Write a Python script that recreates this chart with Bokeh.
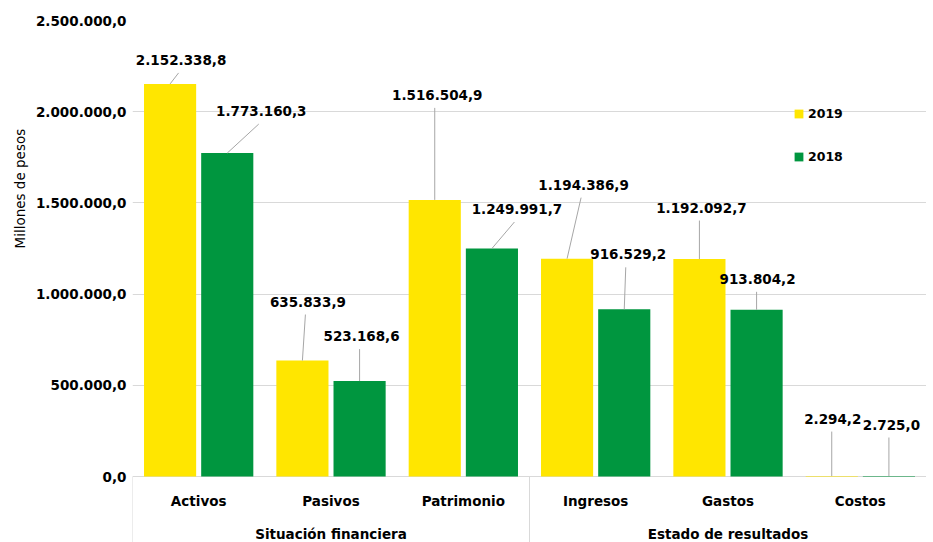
from bokeh.plotting import figure
from bokeh.models import (Range1d, FixedTicker, CustomJSTickFormatter, ColumnDataSource,
                          Legend, LegendItem, Title)
from bokeh.core.properties import value
from bokeh.embed import file_html
from bokeh.resources import INLINE

# ---------------- data ----------------
groups = ["Situación financiera", "Estado de resultados"]
categories = ["Activos", "Pasivos", "Patrimonio", "Ingresos", "Gastos", "Costos"]
category_group = [0, 0, 0, 1, 1, 1]
series_names = ["2019", "2018"]
values_2019 = [2152338.8, 635833.9, 1516504.9, 1194386.9, 1192092.7, 2294.2]
values_2018 = [1773160.3, 523168.6, 1249991.7, 916529.2, 913804.2, 2725.0]
y_ticks = [0, 500000, 1000000, 1500000, 2000000, 2500000]
y_title = "Millones de pesos"

# ---------------- styles ----------------
YELLOW = "#FFE600"
GREEN = "#00963F"
GRID = "#D9D9D9"
LEADER = "#A6A6A6"
FONT = "DejaVu Sans"
FRAME_W = 794          # px for the 6 categories
PLOT_H = 456           # px for 0 .. y_max
BELOW_PX = 66          # px below zero (category labels area)
Y_MAX = 2500000
DODGE = 0.216
BAR_W = 0.394
# label offsets from bar top centre, in px (dx right, dy down)
label_off_2019 = [(11, -24), (5.5, -59), (2.5, -105), (16.5, -74), (2, -51.5), (1, -57.5)]
label_off_2018 = [(34, -42), (2, -45), (25, -39.5), (4, -55), (1, -31), (2.5, -51.5)]

n = len(categories)
sx = FRAME_W / n
sy = PLOT_H / Y_MAX
y_min = -BELOW_PX / sy


def fmt(v):
    s = f"{v:,.1f}"
    return s.replace(",", "X").replace(".", ",").replace("X", ".")


p = figure(x_range=Range1d(0, n), y_range=Range1d(y_min, Y_MAX),
           frame_width=FRAME_W, frame_height=PLOT_H + BELOW_PX,
           min_border_left=132, min_border_top=20, min_border_bottom=0, min_border_right=0,
           x_axis_location=None, output_backend="svg", toolbar_location=None)
p.outline_line_color = None
p.xgrid.visible = False
p.ygrid.ticker = FixedTicker(ticks=y_ticks)
p.ygrid.grid_line_color = GRID
p.ygrid.grid_line_width = 1

ax = p.yaxis[0]
ax.ticker = FixedTicker(ticks=y_ticks)
ax.formatter = CustomJSTickFormatter(code=r"""
var s = Math.abs(tick).toFixed(1).split('.');
var ip = s[0].replace(/\B(?=(\d{3})+(?!\d))/g, '.');
return (tick < 0 ? '-' : '') + ip + ',' + s[1];
""")
ax.axis_line_color = None
ax.major_tick_line_color = None
ax.minor_tick_line_color = None
ax.major_tick_out = 0
ax.major_label_standoff = 6
ax.major_label_text_font = FONT
ax.major_label_text_font_style = "bold"
ax.major_label_text_font_size = "13.5px"
ax.major_label_text_color = "black"

# y-axis title (placed beside the axis, centred on the value area)
ytitle = Title(text=y_title, align="left", offset=294, standoff=9,
               text_font=FONT, text_font_style="normal", text_font_size="13.5px",
               text_color="black")
p.add_layout(ytitle, "left")

# separators (group boundaries) below the axis
bounds = [0] + [i for i in range(1, n) if category_group[i] != category_group[i - 1]] + [n]
p.segment(x0=bounds, y0=[0] * len(bounds), x1=bounds, y1=[y_min] * len(bounds),
          line_color=GRID, line_width=1)

renderers = []
for vals, offs, col, dsh in ((values_2019, label_off_2019, YELLOW, -DODGE),
                             (values_2018, label_off_2018, GREEN, DODGE)):
    xs = [i + 0.5 + dsh for i in range(n)]
    src = ColumnDataSource(dict(x=xs, top=vals))
    r = p.vbar(x="x", top="top", width=BAR_W, source=src, fill_color=col, line_color=None)
    renderers.append(r)
    lx = [x + dx / sx for x, (dx, dy) in zip(xs, offs)]
    ly = [v - dy / sy for v, (dx, dy) in zip(vals, offs)]
    ex = [x + max(0.0, dx - 2.5) / sx for x, (dx, dy) in zip(xs, offs)]
    ey = [y - 13 / sy for y in ly]
    p.segment(x0=xs, y0=vals, x1=ex, y1=ey, line_color=LEADER, line_width=1)
    p.text(x=lx, y=ly, text=[fmt(v) for v in vals], text_font=value(FONT),
           text_font_style="bold", text_font_size="13.5px", text_align="center",
           text_baseline="middle", text_color="black")

# category labels
p.text(x=[i + 0.5 for i in range(n)], y=[-24 / sy] * n, text=categories,
       text_font=value(FONT), text_font_style="bold", text_font_size="13.5px",
       text_align="center", text_baseline="middle", text_color="black")
gx = [(bounds[g] + bounds[g + 1]) / 2 for g in range(len(groups))]
p.text(x=gx, y=[-57 / sy] * len(groups), text=groups,
       text_font=value(FONT), text_font_style="bold", text_font_size="13.5px",
       text_align="center", text_baseline="middle", text_color="black")

legend = Legend(items=[LegendItem(label=series_names[0], renderers=[renderers[0]]),
                       LegendItem(label=series_names[1], renderers=[renderers[1]])],
                location=(661, 376), orientation="vertical")
legend.border_line_color = None
legend.background_fill_alpha = 0
legend.padding = 0
legend.margin = 0
legend.spacing = 23
legend.glyph_width = 11
legend.glyph_height = 11
legend.label_height = 20
legend.label_standoff = 4
legend.label_text_font = FONT
legend.label_text_font_style = "bold"
legend.label_text_font_size = "12.5px"
legend.label_text_color = "black"
p.add_layout(legend)

open("out.html", "w").write(file_html(p, INLINE))
